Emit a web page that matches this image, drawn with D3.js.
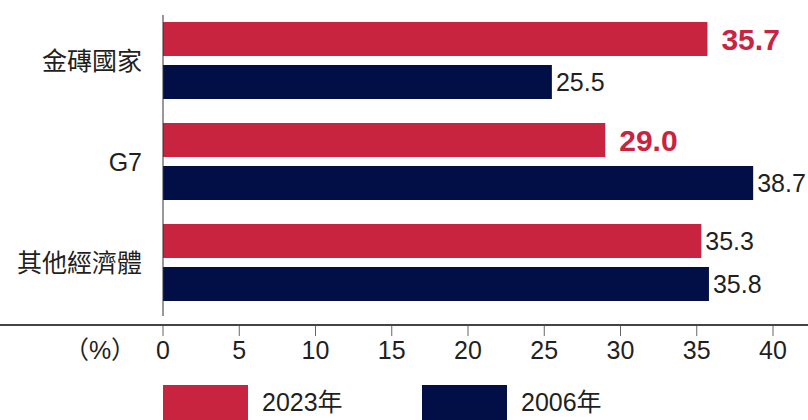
<!DOCTYPE html>
<head>
  <meta charset="utf-8">
  <script src="https://d3js.org/d3.v7.min.js"></script>
  <style>
    body { margin: 0; background: #fff; }
    svg text { font-family: "Liberation Sans", Arial, "Noto Sans CJK TC", sans-serif; fill: #231f20; }
    .cjk { font-family: "Liberation Sans", "Noto Sans CJK TC", sans-serif; }
  </style>
</head>
<body>
  <svg width="808" height="420" id="chart"></svg>
  <script>
    // data
    const categories = ['金磚國家', 'G7', '其他經濟體'];
    const series = ['2023年', '2006年'];
    const values2023 = [35.7, 29.0, 35.3];
    const values2006 = [25.5, 38.7, 35.8];
    const highlight2023 = [true, true, false];
    const ticks = [0, 5, 10, 15, 20, 25, 30, 35, 40];
    const colors = ['#c8233f', '#020f46'];

    const svg = d3.select('#chart');

    const x = d3.scaleLinear().domain([0, 40]).range([163, 773]);
    const y0 = d3.scaleBand().domain(categories).range([22, 301]).paddingInner(24 / 101).paddingOuter(0);
    const y1 = d3.scaleBand().domain(series).range([0, y0.bandwidth()]).paddingInner(9 / 43).paddingOuter(0);

    const rows = categories.map((c, i) => ({
      cat: c,
      bars: [
        {s: series[0], v: values2023[i], bold: highlight2023[i]},
        {s: series[1], v: values2006[i], bold: false}
      ]
    }));

    const g = svg.selectAll('g.row').data(rows).enter().append('g')
      .attr('class', 'row')
      .attr('transform', d => `translate(0,${y0(d.cat)})`);

    g.selectAll('rect').data(d => d.bars).enter().append('rect')
      .attr('x', x(0))
      .attr('y', d => y1(d.s))
      .attr('width', d => x(d.v) - x(0))
      .attr('height', y1.bandwidth())
      .attr('fill', (d, i) => colors[i]);

    g.selectAll('text.val').data(d => d.bars).enter().append('text')
      .attr('class', 'val')
      .attr('x', d => x(d.v) + (d.bold ? 14 : 4))
      .attr('y', d => y1(d.s) + y1.bandwidth() / 2)
      .attr('dy', '0.36em')
      .style('font-size', d => d.bold ? '30px' : '25px')
      .style('font-weight', d => d.bold ? 'bold' : 'normal')
      .style('fill', d => d.bold ? colors[0] : '#231f20')
      .text(d => d.v.toFixed(1));

    // category labels
    svg.selectAll('text.cat').data(categories).enter().append('text')
      .attr('class', 'cat cjk')
      .attr('x', 142)
      .attr('y', d => y0(d) + y0.bandwidth() / 2)
      .attr('dy', '0.36em')
      .attr('text-anchor', 'end')
      .style('font-size', '25px')
      .text(d => d);

    // vertical axis line
    svg.append('line')
      .attr('x1', x(0)).attr('x2', x(0))
      .attr('y1', 15).attr('y2', 316)
      .attr('stroke', '#333').attr('stroke-width', 1);

    // x axis
    svg.append('line')
      .attr('x1', 0).attr('x2', 808)
      .attr('y1', 325).attr('y2', 325)
      .attr('stroke', '#444').attr('stroke-width', 2);

    svg.selectAll('line.tick').data(ticks).enter().append('line')
      .attr('class', 'tick')
      .attr('x1', d => x(d)).attr('x2', d => x(d))
      .attr('y1', 326).attr('y2', 336)
      .attr('stroke', '#666').attr('stroke-width', 1);

    svg.selectAll('text.tick').data(ticks).enter().append('text')
      .attr('class', 'tick')
      .attr('x', d => x(d))
      .attr('y', 359)
      .attr('text-anchor', 'middle')
      .style('font-size', '25px')
      .text(d => d);

    svg.append('text')
      .attr('class', 'cjk')
      .attr('x', 100).attr('y', 359)
      .attr('text-anchor', 'middle')
      .style('font-size', '25px')
      .text('（%）');

    // legend
    const lx = [163, 422];
    const lg = svg.selectAll('g.leg').data(series).enter().append('g')
      .attr('class', 'leg')
      .attr('transform', (d, i) => `translate(${lx[i]},385)`);
    lg.append('rect').attr('width', 85).attr('height', 36).attr('fill', (d, i) => colors[i]);
    lg.append('text')
      .attr('class', 'cjk')
      .attr('x', 99).attr('y', 17).attr('dy', '0.36em')
      .style('font-size', '25px')
      .text(d => d);
  </script>
</body>
